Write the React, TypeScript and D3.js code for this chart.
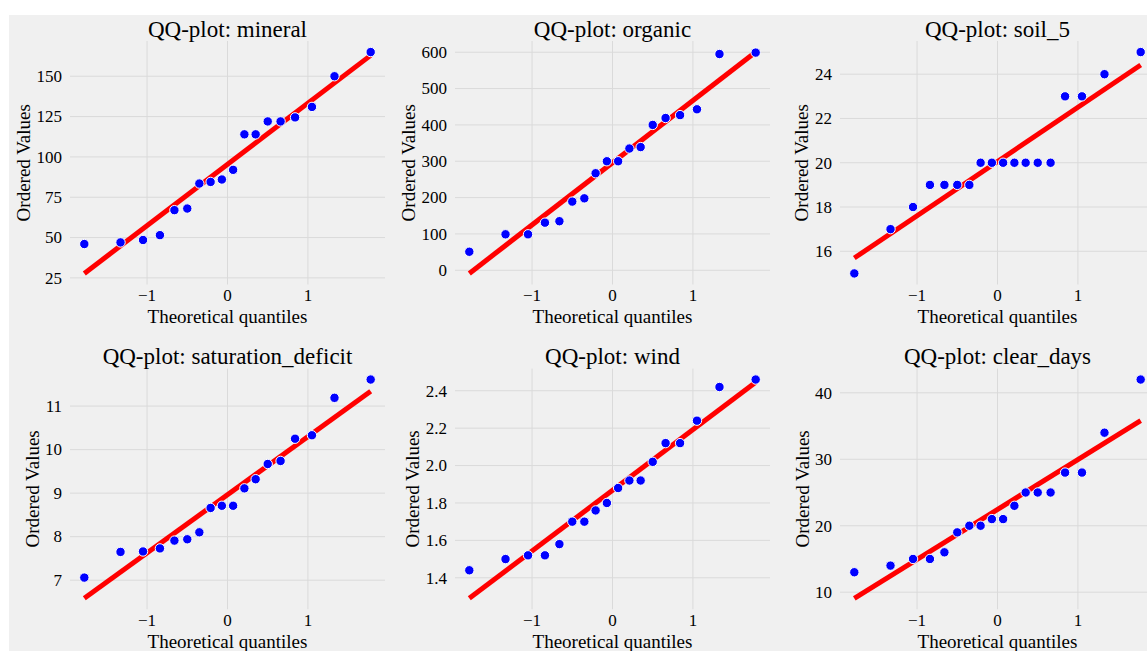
import React, { useRef, useEffect } from 'react';
import * as d3 from 'd3';

// theoretical normal quantiles (n = 18), shared by every panel
const QUANTILES = [-1.78, -1.33, -1.05, -0.84, -0.66, -0.5, -0.35, -0.21, -0.07, 0.07, 0.21, 0.35, 0.5, 0.66, 0.84, 1.05, 1.33, 1.78];

// ordered values
const MINERAL = [46, 47, 48.5, 51.5, 67, 68, 83.5, 84.5, 86, 92, 114, 114, 122, 122, 124.5, 131, 150, 165];
const ORGANIC = [51, 99, 99, 131, 135, 189, 198, 267, 300, 300, 335, 339, 400, 419, 427, 443, 595, 599];
const SOIL_5 = [15, 17, 18, 19, 19, 19, 19, 20, 20, 20, 20, 20, 20, 20, 23, 23, 24, 25];
const SATURATION_DEFICIT = [7.06, 7.65, 7.66, 7.73, 7.91, 7.94, 8.1, 8.66, 8.71, 8.71, 9.11, 9.32, 9.67, 9.74, 10.25, 10.33, 11.19, 11.61];
const WIND = [1.44, 1.5, 1.52, 1.52, 1.58, 1.7, 1.7, 1.76, 1.8, 1.88, 1.92, 1.92, 2.02, 2.12, 2.12, 2.24, 2.42, 2.46];
const CLEAR_DAYS = [13, 14, 15, 15, 16, 19, 20, 20, 21, 21, 23, 25, 25, 25, 28, 28, 34, 42];

const PANEL_NAMES = ['mineral', 'organic', 'soil_5', 'saturation_deficit', 'wind', 'clear_days'];
const PANEL_VALUES = [MINERAL, ORGANIC, SOIL_5, SATURATION_DEFICIT, WIND, CLEAR_DAYS];
const Y_TICKS = [
  [25, 50, 75, 100, 125, 150],
  [0, 100, 200, 300, 400, 500, 600],
  [16, 18, 20, 22, 24],
  [7, 8, 9, 10, 11],
  [1.4, 1.6, 1.8, 2.0, 2.2, 2.4],
  [10, 20, 30, 40]
];
const Y_FORMATS = ['d', 'd', 'd', 'd', '.1f', 'd'];
const X_TICKS = [-1, 0, 1];

const W = 1147;
const H = 651;
const FONT = '"Liberation Serif", "Times New Roman", serif';

const QQGrid = () => {
  const svgRef = useRef(null);

  useEffect(() => {
    const svg = d3.select(svgRef.current);
    svg.selectAll('*').remove();

    svg.append('rect').attr('width', W).attr('height', H).attr('fill', '#ffffff');
    svg.append('rect')
      .attr('x', 9)
      .attr('y', 15)
      .attr('width', W - 9)
      .attr('height', H - 15)
      .attr('fill', '#f0f0f0');

    const colLeft = [70, 455, 840];
    const plotW = 315;
    const rowTop = [41, 368.6];
    const rowH = [243.5, 240.6];

    PANEL_VALUES.forEach((values, i) => {
      const col = i % 3;
      const row = Math.floor(i / 3);
      const left = colLeft[col];
      const top = rowTop[row];
      const height = rowH[row];

      // least squares line through the points, like probplot
      const mx = d3.mean(QUANTILES);
      const my = d3.mean(values);
      const sxy = d3.sum(QUANTILES, (q, k) => (q - mx) * (values[k] - my));
      const sxx = d3.sum(QUANTILES, q => (q - mx) * (q - mx));
      const slope = sxy / sxx;
      const intercept = my - slope * mx;
      const qMin = QUANTILES[0];
      const qMax = QUANTILES[QUANTILES.length - 1];
      const fitPts = [qMin, qMax].map(q => ({ q, v: intercept + slope * q }));

      const xPad = (qMax - qMin) * 0.05;
      const xScale = d3.scaleLinear()
        .domain([qMin - xPad, qMax + xPad])
        .range([left, left + plotW]);

      const yMin = Math.min(d3.min(values), fitPts[0].v, fitPts[1].v);
      const yMax = Math.max(d3.max(values), fitPts[0].v, fitPts[1].v);
      const yPad = (yMax - yMin) * 0.05;
      const yScale = d3.scaleLinear()
        .domain([yMin - yPad, yMax + yPad])
        .range([top + height, top]);

      const g = svg.append('g').attr('class', 'panel');

      // grid
      g.selectAll('.vgrid')
        .data(X_TICKS)
        .enter()
        .append('line')
        .attr('x1', d => xScale(d))
        .attr('x2', d => xScale(d))
        .attr('y1', top)
        .attr('y2', top + height)
        .attr('stroke', '#dadada')
        .attr('stroke-width', 1);

      g.selectAll('.hgrid')
        .data(Y_TICKS[i])
        .enter()
        .append('line')
        .attr('x1', left)
        .attr('x2', left + plotW)
        .attr('y1', d => yScale(d))
        .attr('y2', d => yScale(d))
        .attr('stroke', '#dadada')
        .attr('stroke-width', 1);

      // fit line
      g.append('path')
        .datum(fitPts)
        .attr('d', d3.line().x(d => xScale(d.q)).y(d => yScale(d.v)))
        .attr('stroke', '#ff0000')
        .attr('stroke-width', 5)
        .attr('fill', 'none');

      // points
      g.selectAll('.pt')
        .data(values)
        .enter()
        .append('circle')
        .attr('cx', (d, k) => xScale(QUANTILES[k]))
        .attr('cy', d => yScale(d))
        .attr('r', 4.7)
        .attr('fill', '#0000ff')
        .attr('stroke', '#ffffff')
        .attr('stroke-width', 1);

      // tick labels
      const fmt = d3.format(Y_FORMATS[i]);
      const yLabels = g.selectAll('.ytick')
        .data(Y_TICKS[i])
        .enter()
        .append('text')
        .attr('x', left - 8)
        .attr('y', d => yScale(d))
        .attr('dy', '0.34em')
        .attr('text-anchor', 'end')
        .style('font-family', FONT)
        .style('font-size', '17px')
        .style('fill', '#000')
        .text(d => fmt(d));

      g.selectAll('.xtick')
        .data(X_TICKS)
        .enter()
        .append('text')
        .attr('x', d => xScale(d))
        .attr('y', top + height + 11)
        .attr('dy', '0.34em')
        .attr('text-anchor', 'middle')
        .style('font-family', FONT)
        .style('font-size', '17px')
        .style('fill', '#000')
        .text(d => d3.format('d')(d));

      let maxW = 0;
      yLabels.each(function () {
        maxW = Math.max(maxW, this.getBBox().width);
      });

      // title and axis labels
      g.append('text')
        .attr('x', left + plotW / 2)
        .attr('y', top - 12)
        .attr('dy', '0.34em')
        .attr('text-anchor', 'middle')
        .style('font-family', FONT)
        .style('font-size', '23px')
        .style('fill', '#000')
        .text(`QQ-plot: ${PANEL_NAMES[i]}`);

      g.append('text')
        .attr('x', left + plotW / 2)
        .attr('y', top + height + 32)
        .attr('dy', '0.34em')
        .attr('text-anchor', 'middle')
        .style('font-family', FONT)
        .style('font-size', '19px')
        .style('fill', '#000')
        .text('Theoretical quantiles');

      const ylx = left - 8 - maxW - 12.5;
      const yly = top + height / 2;
      g.append('text')
        .attr('transform', `translate(${ylx},${yly}) rotate(-90)`)
        .attr('dy', '0.34em')
        .attr('text-anchor', 'middle')
        .style('font-family', FONT)
        .style('font-size', '19px')
        .style('fill', '#000')
        .text('Ordered Values');
    });
  }, []);

  return (
    <svg
      ref={svgRef}
      width={W}
      height={H}
      style={{ position: 'absolute', left: 0, top: 0, display: 'block' }}
    ></svg>
  );
};

export default function App() {
  return <QQGrid />;
}
